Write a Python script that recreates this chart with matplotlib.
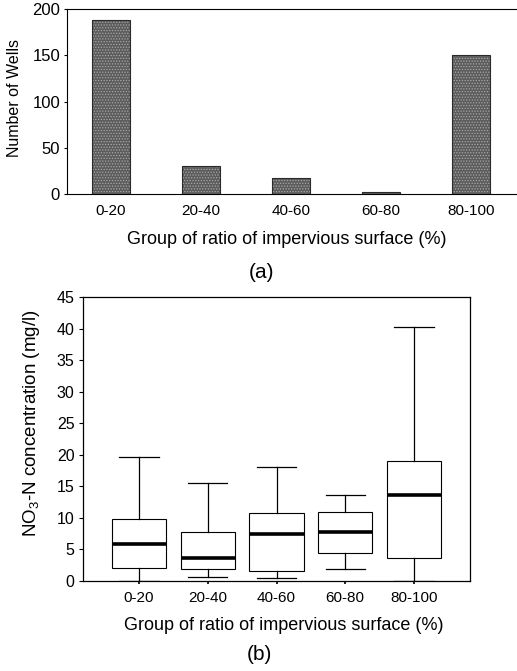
import matplotlib.pyplot as plt
import numpy as np

plt.rcParams['font.family'] = ['Liberation Sans', 'DejaVu Sans']
plt.rcParams['mathtext.fontset'] = 'custom'
plt.rcParams['mathtext.rm'] = 'Liberation Sans'
plt.rcParams['mathtext.it'] = 'Liberation Sans'
plt.rcParams['hatch.linewidth'] = 0.6

groups = ["0-20", "20-40", "40-60", "60-80", "80-100"]
wells = [188, 30, 17, 2, 150]

# box plot stats
whisker_low = [0.0, 0.6, 0.5, 1.9, 0.0]
q1 = [2.0, 1.9, 1.6, 4.5, 3.7]
medians = [5.9, 3.7, 7.5, 7.8, 13.6]
q3 = [9.9, 7.7, 10.8, 11.0, 19.0]
whisker_high = [19.6, 15.5, 18.0, 13.7, 40.2]

W, H = 517, 671
fig = plt.figure(figsize=(W / 100, H / 100), dpi=100)

# ---- panel (a): number of wells
ax1 = fig.add_axes([67 / W, 1 - 194 / H, (W - 67) / W, 185 / H])
x = np.arange(len(groups))
# stippled grey fill, then a dark outline on top
ax1.bar(x, wells, width=0.43, color='#5c5c5c', hatch='......', edgecolor='#a8a8a8', linewidth=0)
ax1.bar(x, wells, width=0.43, fill=False, edgecolor='#2a2a2a', linewidth=0.8)
ax1.set_xlim(-0.49, 4.51)
ax1.set_ylim(0, 200)
ax1.set_yticks([0, 50, 100, 150, 200])
ax1.set_xticks(x)
ax1.set_xticklabels(groups)
ax1.tick_params(axis='x', length=0, pad=7, labelsize=11)
ax1.tick_params(axis='y', length=2, width=0.8, pad=3, labelsize=12)
ax1.spines['right'].set_visible(False)
for s in ['top', 'left', 'bottom']:
    ax1.spines[s].set_linewidth(0.8)
ax1.set_ylabel("Number of Wells", fontsize=11.5)
ax1.yaxis.set_label_coords(-0.1, 0.52)

fig.text(287 / W, 1 - 240 / H, "Group of ratio of impervious surface (%)",
         ha='center', va='center', fontsize=13)
fig.text(262 / W, 1 - 272 / H, "(a)", ha='center', va='center', fontsize=15)

# ---- panel (b): NO3-N concentration box plots
ax2 = fig.add_axes([83 / W, 1 - 581 / H, 387 / W, 284 / H])
stats = []
for i, g in enumerate(groups):
    stats.append(dict(label=g, whislo=whisker_low[i], q1=q1[i], med=medians[i],
                      q3=q3[i], whishi=whisker_high[i], fliers=[]))
pos = np.arange(1, len(groups) + 1)
ax2.bxp(stats, positions=pos, widths=0.79, capwidths=0.57, showfliers=False,
        patch_artist=True,
        boxprops=dict(facecolor='white', edgecolor='black', linewidth=0.8),
        whiskerprops=dict(color='black', linewidth=0.9),
        capprops=dict(color='black', linewidth=0.9),
        medianprops=dict(color='black', linewidth=2.6))
ax2.set_xlim(0.185, 5.815)
ax2.set_ylim(0, 45)
ax2.set_yticks(np.arange(0, 46, 5))
ax2.tick_params(axis='y', length=3, width=0.8, pad=3, labelsize=11.5)
ax2.tick_params(axis='x', length=2, width=1.2, pad=5, labelsize=11)
for s in ax2.spines.values():
    s.set_linewidth(0.9)
ax2.set_ylabel("NO$_3$-N concentration (mg/l)", fontsize=13.5)
ax2.yaxis.set_label_coords(-0.105, 0.556)

fig.text(284 / W, 1 - 625 / H, "Group of ratio of impervious surface (%)",
         ha='center', va='center', fontsize=13)
fig.text(259 / W, 1 - 655 / H, "(b)", ha='center', va='center', fontsize=15)

fig.savefig("out.png", dpi=100)
